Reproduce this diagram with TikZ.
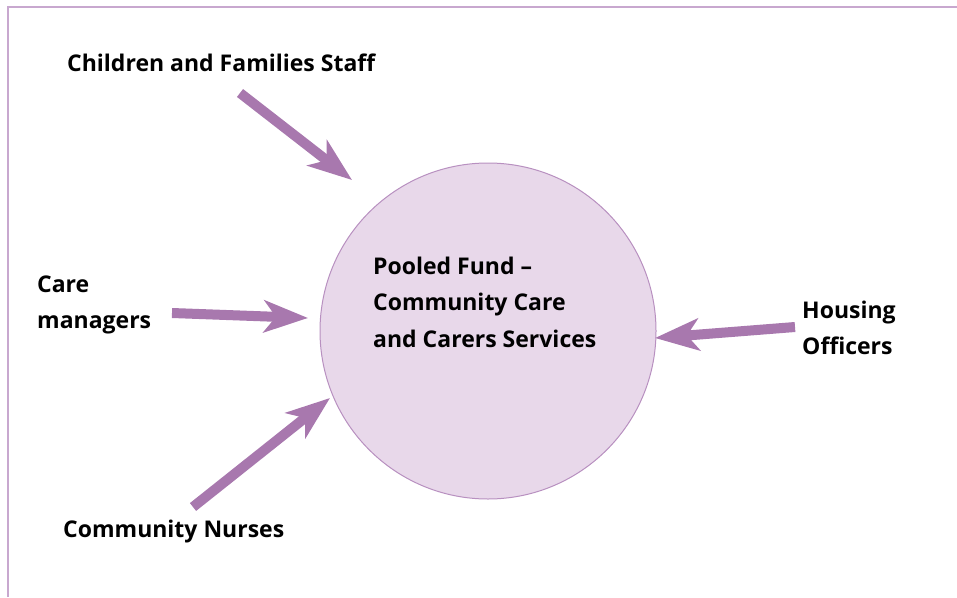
\documentclass[tikz,border=0pt]{standalone}
\usepackage{fontspec}
\setmainfont{Open Sans}
\usetikzlibrary{arrows.meta}
\definecolor{arrowc}{HTML}{A878AE}
\definecolor{circfill}{HTML}{E8D8EA}
\definecolor{circline}{HTML}{B890C0}
\definecolor{framec}{HTML}{C8A8CF}
\tikzset{
  lbl/.style={font=\bfseries\fontsize{23}{36.5}\selectfont, text=black, align=left, inner sep=0pt},
  feed/.style={draw=arrowc, line width=10pt, -{Stealth[length=44pt, width=32pt, inset=12pt]}},
}
\begin{document}
\begin{tikzpicture}[x=1pt,y=-1pt]
\useasboundingbox (0,0) rectangle (957,597);
\draw[framec, line width=1.6pt] (8,597) -- (8,7) -- (957,7);
\node[circle, draw=circline, line width=1pt, fill=circfill, minimum size=336pt, inner sep=0pt] (pool) at (488,331) {};
\node[lbl, anchor=west] (cen) at (373,302) {Pooled Fund –\\Community Care\\and Carers Services};
\node[lbl, anchor=west] (cf) at (67,63) {Children and Families Staff};
\node[lbl, anchor=west] (cm) at (37,305) {Care\\managers};
\node[lbl, anchor=west] (ho) at (802,328) {Housing\\Officers};
\node[lbl, anchor=west] (cn) at (63,532) {Community Nurses};
\coordinate (t1) at (240,93);  \coordinate (h1) at (352,180);
\coordinate (t2) at (172,313); \coordinate (h2) at (308,318);
\coordinate (t3) at (795,327); \coordinate (h3) at (655,338);
\coordinate (t4) at (193,507); \coordinate (h4) at (330,398);
\draw[feed] (t1) -- (h1);
\draw[feed] (t2) -- (h2);
\draw[feed] (t3) -- (h3);
\draw[feed] (t4) -- (h4);
\end{tikzpicture}
\end{document}
